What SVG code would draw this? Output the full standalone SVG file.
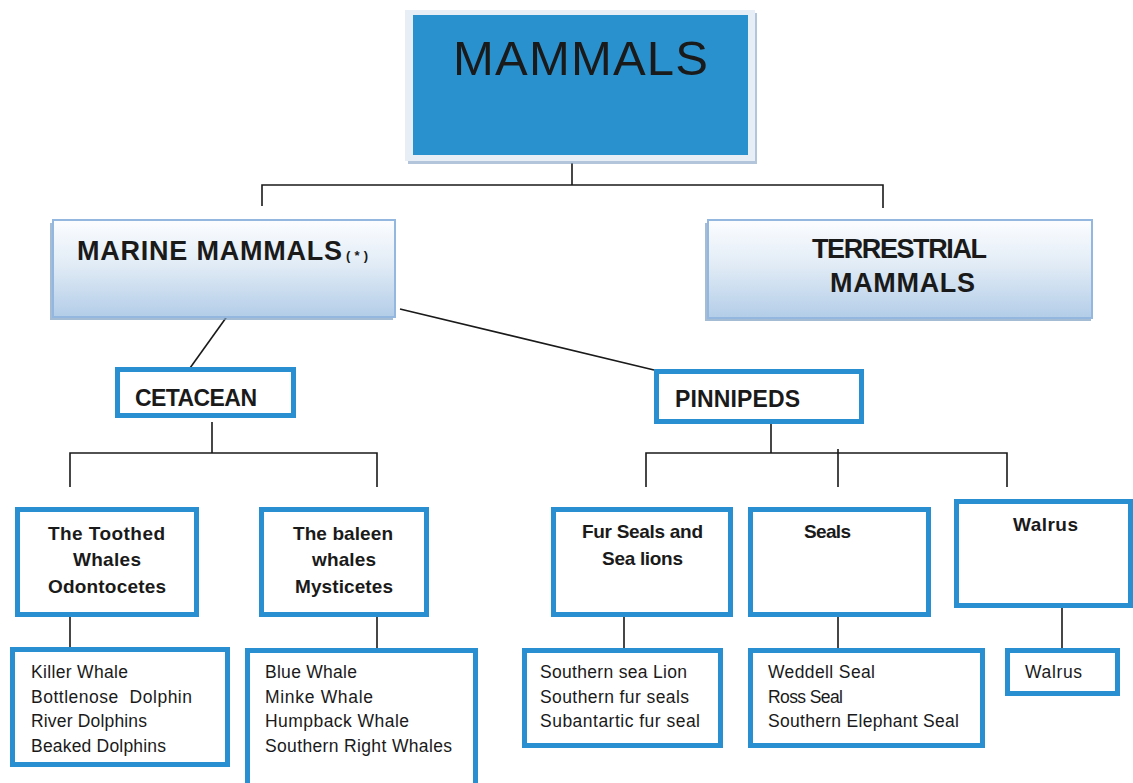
<svg xmlns="http://www.w3.org/2000/svg" width="1133" height="783" viewBox="0 0 1133 783">
<defs>
<linearGradient id="g" x1="0" y1="0" x2="0" y2="1">
<stop offset="0" stop-color="#fcfdff"/>
<stop offset="0.45" stop-color="#e2ecf6"/>
<stop offset="1" stop-color="#b3cde8"/>
</linearGradient>
<style>
.bx{fill:#fff;stroke:#2a8fd0;stroke-width:5}
.gb{fill:url(#g);stroke:#93b7df;stroke-width:2}
.sh{fill:#7e9fc2}
.ln{stroke:#1a1a1a;stroke-width:1.6;fill:none}
.h{font-family:"Liberation Sans",Arial,sans-serif;font-weight:bold;fill:#1a1a1a}
.r{font-family:"Liberation Sans",Arial,sans-serif;font-weight:normal;fill:#1a1a1a}
.t{font-family:"Liberation Sans",Arial,sans-serif;fill:#1a1a1a;font-size:17.5px}
</style>
</defs>
<rect width="1133" height="783" fill="#fff"/>

<g id="connectors">
<path class="ln" d="M572 163V185M262 206V185H883V208"/>
<path class="ln" d="M228 315L185 375"/>
<path class="ln" d="M400 309L654 370"/>
<path class="ln" d="M212 422V453M70 487V453H377V487"/>
<path class="ln" d="M771 424V453M646 487V453H1007V487M838 449V487"/>
<path class="ln" d="M70 617V649M377 617V650"/>
<path class="ln" d="M624 617V650M838 617V650M1062 608V650"/>
</g>

<g id="mammals">
<rect x="408" y="13" width="349" height="151" class="sh" fill-opacity="0.6"/>
<rect x="405" y="10" width="350" height="151" fill="#e8eef5"/>
<rect x="413" y="15" width="335" height="140" fill="#2a91cf"/>
<text x="453" y="75" class="r" font-size="49" textLength="255">MAMMALS</text>
</g>

<g id="marine">
<rect x="50" y="223" width="343" height="97" class="sh" fill-opacity="0.7"/>
<rect x="53" y="220" width="342" height="97" class="gb"/>
<text x="77" y="260" class="h" font-size="27" textLength="265">MARINE MAMMALS</text>
<text x="346" y="260" class="h" font-size="13" textLength="22">(*)</text>
</g>

<g id="terrestrial">
<rect x="705" y="223" width="386" height="98" class="sh" fill-opacity="0.7"/>
<rect x="708" y="220" width="384" height="98" class="gb"/>
<text x="812" y="258" class="h" font-size="27" textLength="175">TERRESTRIAL</text>
<text x="830" y="292" class="h" font-size="27" textLength="145">MAMMALS</text>
</g>

<g id="cetacean">
<rect x="117.5" y="369.5" width="176" height="46" class="bx"/>
<text x="135" y="406" class="h" font-size="23" textLength="122">CETACEAN</text>
</g>

<g id="pinnipeds">
<rect x="656.5" y="371.5" width="205" height="50" class="bx"/>
<text x="675" y="407" class="h" font-size="23" textLength="125">PINNIPEDS</text>
</g>

<g id="toothed">
<rect x="17.5" y="509.5" width="179" height="105" class="bx"/>
<text x="48" y="540" class="h" font-size="19" textLength="117">The Toothed</text>
<text x="73" y="566" class="h" font-size="19" textLength="68">Whales</text>
<text x="48" y="593" class="h" font-size="19" textLength="118">Odontocetes</text>
</g>

<g id="baleen">
<rect x="261.5" y="509.5" width="165" height="105" class="bx"/>
<text x="293" y="540" class="h" font-size="19" textLength="100">The baleen</text>
<text x="312" y="566" class="h" font-size="19" textLength="64">whales</text>
<text x="295" y="593" class="h" font-size="19" textLength="98">Mysticetes</text>
</g>

<g id="furseals">
<rect x="553.5" y="509.5" width="177" height="105" class="bx"/>
<text x="582" y="538" class="h" font-size="19" textLength="121">Fur Seals and</text>
<text x="602" y="565" class="h" font-size="19" textLength="81">Sea lions</text>
</g>

<g id="seals">
<rect x="750.5" y="509.5" width="178" height="105" class="bx"/>
<text x="804" y="538" class="h" font-size="19" textLength="47">Seals</text>
</g>

<g id="walrus">
<rect x="956.5" y="501.5" width="174" height="104" class="bx"/>
<text x="1013" y="531" class="h" font-size="19" textLength="65">Walrus</text>
</g>

<g id="toothed-list">
<rect x="12.5" y="649.5" width="215" height="115" class="bx"/>
<text x="31" y="678" class="t" textLength="97">Killer Whale</text>
<text x="31" y="703" class="t" textLength="161" xml:space="preserve">Bottlenose  Dolphin</text>
<text x="31" y="727" class="t" textLength="116">River Dolphins</text>
<text x="31" y="752" class="t" textLength="135">Beaked Dolphins</text>
</g>

<g id="baleen-list">
<rect x="247.5" y="650.5" width="228" height="145" class="bx"/>
<text x="265" y="678" class="t" textLength="92">Blue Whale</text>
<text x="265" y="703" class="t" textLength="108">Minke Whale</text>
<text x="265" y="727" class="t" textLength="144">Humpback Whale</text>
<text x="265" y="752" class="t" textLength="187">Southern Right Whales</text>
</g>

<g id="furseals-list">
<rect x="524.5" y="650.5" width="196" height="95" class="bx"/>
<text x="540" y="678" class="t" textLength="147">Southern sea Lion</text>
<text x="540" y="703" class="t" textLength="149">Southern fur seals</text>
<text x="540" y="727" class="t" textLength="160">Subantartic fur seal</text>
</g>

<g id="seals-list">
<rect x="750.5" y="650.5" width="232" height="95" class="bx"/>
<text x="768" y="678" class="t" textLength="107">Weddell Seal</text>
<text x="768" y="703" class="t" textLength="75">Ross Seal</text>
<text x="768" y="727" class="t" textLength="191">Southern Elephant Seal</text>
</g>

<g id="walrus-list">
<rect x="1007.5" y="650.5" width="110" height="43" class="bx"/>
<text x="1025" y="678" class="t" textLength="57">Walrus</text>
</g>
</svg>
